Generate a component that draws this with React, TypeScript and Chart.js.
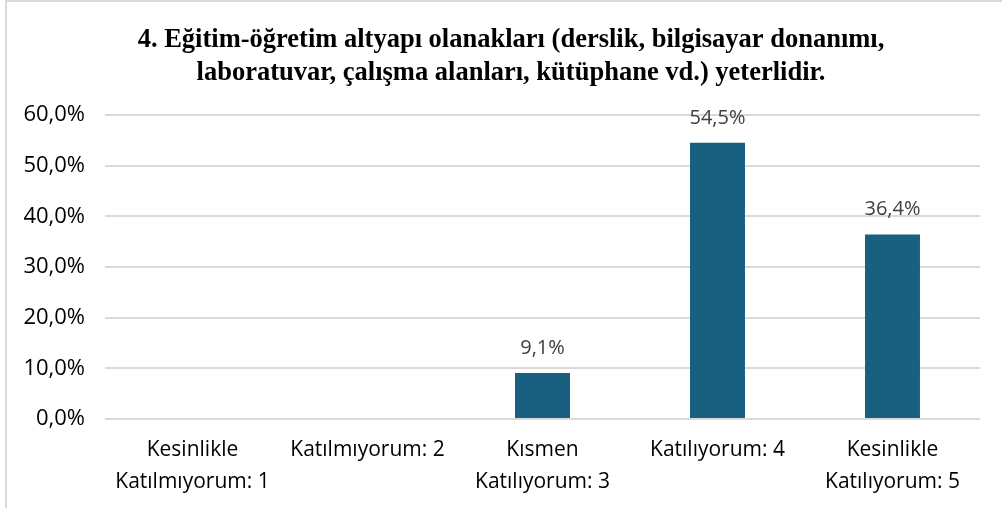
import React, { useEffect, useRef } from "react";
import { Chart, registerables } from "chart.js";

Chart.register(...registerables);

const categories: string[][] = [
  ["Kesinlikle", "Katılmıyorum: 1"],
  ["Katılmıyorum: 2"],
  ["Kısmen", "Katılıyorum: 3"],
  ["Katılıyorum: 4"],
  ["Kesinlikle", "Katılıyorum: 5"],
];
const values: number[] = [0, 0, 9.1, 54.5, 36.4];
const titleLines: string[] = [
  "4. Eğitim-öğretim altyapı olanakları (derslik, bilgisayar donanımı,",
  "laboratuvar, çalışma alanları, kütüphane vd.) yeterlidir.",
];

const fmt = (v: number) => v.toFixed(1).replace(".", ",") + "%";

const labelPlugin = {
  id: "barLabels",
  afterDatasetsDraw(chart: any) {
    const ctx = chart.ctx;
    const meta = chart.getDatasetMeta(0);
    ctx.save();
    ctx.font = "20px 'Open Sans'";
    ctx.fillStyle = "#404040";
    ctx.textAlign = "center";
    ctx.textBaseline = "middle";
    meta.data.forEach((el: any, i: number) => {
      const v = values[i];
      if (!v) return;
      ctx.fillText(fmt(v), el.x, el.y - 25);
    });
    ctx.restore();
  },
};

const titlePlugin = {
  id: "customTitle",
  afterDraw(chart: any) {
    const ctx = chart.ctx;
    ctx.save();
    ctx.font = "bold 26.5px 'Liberation Serif'";
    ctx.fillStyle = "#000000";
    ctx.textAlign = "center";
    ctx.textBaseline = "middle";
    titleLines.forEach((line, i) => {
      ctx.fillText(line, 511, 40 + i * 33);
    });
    ctx.restore();
  },
};

const framePlugin = {
  id: "frame",
  beforeDraw(chart: any) {
    const ctx = chart.ctx;
    ctx.save();
    ctx.fillStyle = "#ffffff";
    ctx.fillRect(0, 0, chart.width, chart.height);
    ctx.strokeStyle = "#d9d9d9";
    ctx.lineWidth = 2;
    ctx.beginPath();
    ctx.moveTo(6, chart.height);
    ctx.lineTo(6, 1);
    ctx.lineTo(chart.width, 1);
    ctx.stroke();
    ctx.restore();
  },
};

export default function App() {
  const ref = useRef<HTMLCanvasElement>(null);
  useEffect(() => {
    if (!ref.current) return;
    const chart = new Chart(ref.current, {
      type: "bar",
      data: {
        labels: categories,
        datasets: [
          {
            data: values,
            backgroundColor: "#185F80",
            barPercentage: 0.314,
            categoryPercentage: 1,
          },
        ],
      },
      options: {
        animation: false,
        responsive: false,
        layout: { padding: { top: 115, right: 22, left: 0, bottom: 0 } },
        plugins: {
          legend: { display: false },
          tooltip: { enabled: false },
          title: { display: false },
        },
        scales: {
          x: {
            grid: { display: false, drawTicks: false },
            border: { display: false },
            ticks: {
              color: "#000000",
              font: { family: "'Open Sans'", size: 21, lineHeight: 1.52 },
              padding: 15,
              maxRotation: 0,
              autoSkip: false,
            },
            afterFit: (s: any) => {
              s.height = 89;
            },
          },
          y: {
            min: 0,
            max: 60,
            grid: { color: "#d9d9d9", lineWidth: 2, drawTicks: false },
            border: { display: false },
            ticks: {
              stepSize: 10,
              color: "#000000",
              font: { family: "'Open Sans'", size: 22 },
              padding: 20,
              callback: (v: any) => fmt(Number(v)),
            },
            afterFit: (s: any) => {
              s.width = 105;
            },
          },
        },
      },
      plugins: [framePlugin, labelPlugin, titlePlugin],
    });
    return () => chart.destroy();
  }, []);
  return (
    <div style={{ position: "fixed", left: 0, top: 0, width: 1002, height: 508 }}>
      <canvas ref={ref} width={1002} height={508} style={{ width: 1002, height: 508 }} />
    </div>
  );
}
